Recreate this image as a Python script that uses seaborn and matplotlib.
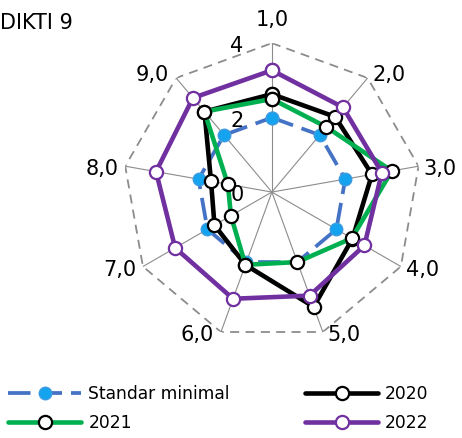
import numpy as np
import pandas as pd
import matplotlib
matplotlib.use("Agg")
import matplotlib.pyplot as plt
import seaborn as sns

# ==========================================================
# DATOS (leídos del gráfico radar DIKTI 9)
# ==========================================================
categories = ["1,0", "2,0", "3,0", "4,0", "5,0", "6,0", "7,0", "8,0", "9,0"]
standar_minimal = [2.0, 2.0, 2.0, 2.0, 2.0, 2.0, 2.0, 2.0, 2.0]
y2020 = [2.63, 2.64, 2.73, 2.5, 3.28, 2.08, 1.78, 1.66, 2.82]
y2021 = [2.5, 2.28, 3.27, 2.48, 2.0, 2.08, 1.27, 1.2, 2.82]
y2022 = [3.27, 2.97, 3.0, 2.87, 2.96, 3.05, 3.0, 3.16, 3.3]
r_ticks = [0, 2, 4]
r_max = 4

sns.set_style("white")
plt.rcParams["font.family"] = ["DejaVu Sans"]
plt.rcParams["text.color"] = "black"

n = len(categories)
theta = np.linspace(0, 2 * np.pi, n, endpoint=False)
theta_closed = np.append(theta, 2 * np.pi)


def closed(values):
    return pd.DataFrame({"theta": theta_closed, "value": list(values) + [values[0]]})


fig = plt.figure(figsize=(4.62, 4.38), dpi=100)
ax = fig.add_axes([0.266, 0.2215, 0.645, 0.680], projection="polar")
ax.set_theta_zero_location("N")
ax.set_theta_direction(-1)
ax.set_ylim(0, r_max)
ax.grid(False)
ax.spines["polar"].set_visible(False)
ax.set_xticks([])
ax.set_yticks([])
ax.set_facecolor("none")

# rejilla: radios y polígono exterior discontinuo
for th in theta:
    ax.plot([th, th], [0, r_max], color="#8c8c8c", lw=0.8, zorder=1)
ax.plot(theta_closed, [r_max] * (n + 1), color="#8c8c8c", lw=1.3,
        linestyle=(0, (5, 3.5)), zorder=1)

# etiquetas de eje radial
for rv in r_ticks:
    ax.annotate(str(rv), xy=(0, rv), xytext=(-35, -3), textcoords="offset pixels",
                ha="center", va="center", fontsize=15, color="black", zorder=1)

# etiquetas de categorías
for th, lab in zip(theta, categories):
    s, c = np.sin(th), np.cos(th)
    if abs(s) < 1e-6:
        ha, dx, dy = "center", 0, 23
    else:
        ha = "left" if s > 0 else "right"
        dx = 5 if s > 0 else -7
        dy = 3 if c > 0.5 else -3
    ax.annotate(lab, xy=(th, r_max), xytext=(dx, dy), textcoords="offset pixels",
                ha=ha, va="center", fontsize=15, color="black")

# series
sns.lineplot(data=closed(standar_minimal), x="theta", y="value", ax=ax, sort=False,
             estimator=None, color="#4472C4", linewidth=2.7, linestyle=(0, (6, 2.4)),
             marker="o", markersize=9, markerfacecolor="#14A3EE",
             markeredgecolor="#3D9BE0", markeredgewidth=1.0,
             label="Standar minimal", zorder=3)
sns.lineplot(data=closed(y2020), x="theta", y="value", ax=ax, sort=False,
             estimator=None, color="black", linewidth=3.3,
             marker="o", markersize=9.5, markerfacecolor="white",
             markeredgecolor="black", markeredgewidth=1.6,
             label="2020", zorder=4)
sns.lineplot(data=closed(y2021), x="theta", y="value", ax=ax, sort=False,
             estimator=None, color="#00B050", linewidth=3.3,
             marker="o", markersize=9.5, markerfacecolor="white",
             markeredgecolor="black", markeredgewidth=1.6,
             label="2021", zorder=5)
sns.lineplot(data=closed(y2022), x="theta", y="value", ax=ax, sort=False,
             estimator=None, color="#7030A0", linewidth=3.3,
             marker="o", markersize=9.5, markerfacecolor="white",
             markeredgecolor="#7030A0", markeredgewidth=1.6,
             label="2022", zorder=6)
ax.set(xlabel="", ylabel="")
if ax.get_legend() is not None:
    ax.get_legend().remove()

fig.text(0.0, 1 - 23 / 438, "DIKTI 9", ha="left", va="center", fontsize=15,
         color="black")

handles, labels = ax.get_legend_handles_labels()
order = [0, 2, 1, 3]
leg = fig.legend([handles[i] for i in order], [labels[i] for i in order],
                 ncol=2, loc="upper left", bbox_to_anchor=(8 / 462, 1 - 385 / 438),
                 frameon=False, fontsize=12.3, borderpad=0, borderaxespad=0,
                 handlelength=4.3, handletextpad=0.4, columnspacing=4.4,
                 labelspacing=0.62, numpoints=1)
for t in leg.get_texts():
    t.set_color("black")

fig.savefig("out.png", dpi=100)
